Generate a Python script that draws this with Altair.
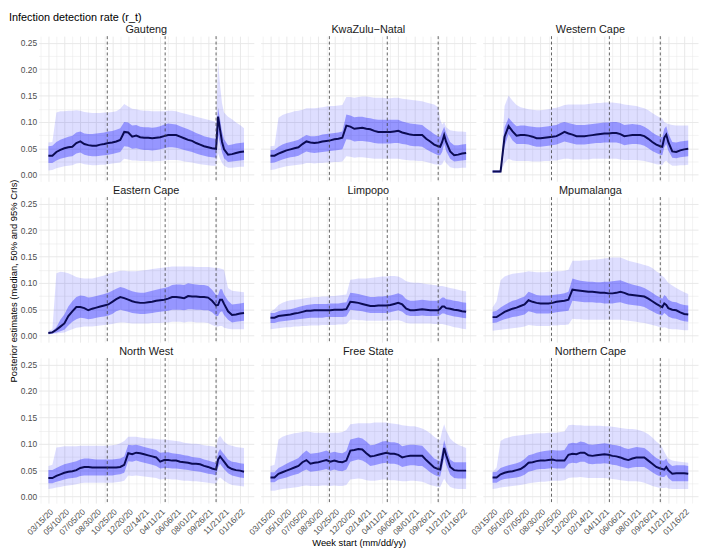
import json
import altair as alt
import pandas as pd

# ---------------- data ----------------
weeks = [0, 2, 4, 6, 8, 10, 12, 14, 16, 18,
         20, 22, 24, 26, 28, 30, 32, 34, 36, 38,
         40, 42, 44, 46, 48, 50, 52, 54, 56, 58,
         60, 62, 64, 66, 68, 70, 72, 74, 76, 78,
         80, 82, 84, 85, 86, 87, 88, 90, 92, 94, 96, 98]
start_date = "2020-03-15"

provinces = ["Gauteng", "KwaZulu\u2212Natal", "Western Cape",
             "Eastern Cape", "Limpopo", "Mpumalanga",
             "North West", "Free State", "Northern Cape"]

tick_dates = ["2020-03-15", "2020-05-10", "2020-07-05", "2020-08-30", "2020-10-25",
              "2020-12-20", "2021-02-14", "2021-04-11", "2021-06-06", "2021-08-01",
              "2021-09-26", "2021-11-21", "2022-01-16"]
tick_labels = ["03/15/20", "05/10/20", "07/05/20", "08/30/20", "10/25/20",
               "12/20/20", "02/14/21", "04/11/21", "06/06/21", "08/01/21",
               "09/26/21", "11/21/21", "01/16/22"]
y_major = [0.0, 0.05, 0.1, 0.15, 0.2, 0.25]
y_minor = [0.025, 0.075, 0.125, 0.175, 0.225]
y_labels = ["0.00", "0.05", "0.10", "0.15", "0.20", "0.25"]

rule_dates = ["2020-10-07T12:00:00Z", "2021-04-28T12:00:00Z", "2021-10-24T00:00:00Z"]

# Gauteng
GP_med = [.036, .036, .043, .047, .050, .052, .053, .060, .063, .058,
          .056, .055, .055, .057, .058, .060, .061, .063, .066, .081,
          .080, .072, .074, .071, .070, .070, .069, .070, .071, .073,
          .075, .075, .075, .072, .069, .066, .064, .060, .057, .054,
          .052, .050, .049, .110, .085, .062, .048, .038, .039, .041, .043, .044]
GP_hi50 = [.054, .055, .062, .066, .069, .072, .074, .080, .082, .078,
           .077, .077, .078, .079, .080, .082, .083, .085, .088, .100,
           .099, .093, .094, .091, .090, .090, .089, .090, .092, .095,
           .097, .096, .095, .092, .089, .086, .083, .079, .076, .073,
           .071, .069, .068, .127, .105, .082, .067, .056, .057, .059, .060, .061]
GP_lo50 = [.022, .022, .027, .030, .032, .034, .035, .040, .042, .038,
           .036, .035, .035, .036, .037, .038, .039, .041, .043, .054,
           .053, .049, .050, .048, .047, .047, .046, .047, .048, .050,
           .052, .052, .051, .049, .047, .045, .043, .040, .038, .036,
           .034, .033, .032, .075, .058, .042, .031, .024, .025, .026, .027, .028]
GP_hi95 = [.061, .062, .118, .120, .120, .121, .121, .122, .121, .119,
           .118, .117, .117, .117, .118, .118, .119, .120, .125, .134,
           .129, .125, .124, .122, .121, .121, .120, .120, .120, .120,
           .121, .121, .120, .118, .116, .114, .112, .110, .108, .106,
           .104, .102, .100, .215, .170, .135, .118, .110, .105, .099, .094, .088]
GP_lo95 = [.008, .009, .012, .014, .016, .017, .018, .021, .022, .020,
           .019, .018, .018, .019, .019, .020, .021, .022, .023, .030,
           .029, .027, .027, .026, .026, .026, .025, .026, .026, .027,
           .028, .028, .028, .027, .025, .024, .023, .021, .020, .019,
           .018, .017, .017, .040, .030, .022, .017, .013, .013, .014, .015, .015]

# KwaZulu-Natal
KZ_med = [.036, .036, .040, .043, .046, .048, .050, .052, .058, .063,
          .061, .060, .061, .063, .064, .065, .067, .068, .070, .093,
          .091, .087, .088, .089, .087, .086, .083, .081, .081, .081,
          .081, .082, .083, .080, .078, .076, .075, .075, .075, .068,
          .063, .057, .054, .053, .062, .075, .062, .044, .037, .038, .040, .041]
KZ_hi50 = [.047, .047, .053, .057, .060, .062, .064, .066, .071, .075,
           .073, .073, .074, .076, .077, .078, .079, .080, .082, .114,
           .112, .109, .110, .110, .108, .107, .105, .104, .104, .104,
           .104, .104, .104, .101, .099, .097, .096, .095, .094, .088,
           .083, .077, .073, .072, .082, .091, .079, .062, .056, .056, .057, .058]
KZ_lo50 = [.022, .023, .026, .029, .031, .033, .034, .036, .040, .044,
           .042, .041, .042, .043, .044, .045, .046, .047, .048, .067,
           .066, .063, .064, .064, .063, .062, .060, .059, .059, .059,
           .059, .060, .060, .058, .057, .055, .054, .054, .053, .048,
           .044, .040, .037, .037, .043, .058, .045, .030, .025, .026, .027, .028]
KZ_hi95 = [.054, .055, .108, .113, .116, .118, .120, .121, .123, .126,
           .126, .126, .127, .128, .129, .130, .130, .131, .132, .147,
           .147, .146, .147, .148, .148, .147, .146, .146, .146, .145,
           .145, .146, .146, .144, .143, .142, .141, .140, .139, .137,
           .135, .133, .128, .105, .095, .100, .090, .084, .083, .082, .082, .081]
KZ_lo95 = [.009, .010, .012, .014, .016, .017, .018, .019, .020, .022,
           .022, .021, .022, .022, .023, .023, .024, .024, .025, .035,
           .034, .032, .033, .033, .032, .031, .030, .030, .030, .030,
           .030, .030, .030, .029, .028, .027, .027, .026, .026, .024,
           .022, .020, .019, .018, .020, .028, .022, .014, .012, .012, .013, .013]

# Western Cape
WC_med = [.006, .006, .006, .072, .092, .082, .074, .075, .075, .074,
          .072, .069, .069, .070, .071, .072, .073, .077, .081, .078,
          .076, .073, .073, .073, .074, .075, .076, .077, .078, .078,
          .079, .079, .077, .073, .074, .075, .075, .075, .073, .068,
          .062, .057, .054, .053, .070, .076, .062, .044, .043, .046, .048, .049]
WC_hi50 = [.008, .008, .008, .090, .108, .099, .092, .093, .093, .092,
           .091, .090, .090, .091, .092, .093, .094, .098, .100, .098,
           .096, .094, .094, .094, .095, .096, .097, .098, .099, .099,
           .100, .100, .098, .094, .095, .096, .095, .094, .091, .086,
           .080, .075, .072, .071, .087, .092, .078, .062, .061, .063, .064, .065]
WC_lo50 = [.004, .004, .004, .054, .077, .065, .058, .058, .058, .057,
           .055, .053, .053, .054, .055, .056, .057, .060, .063, .061,
           .059, .057, .057, .057, .058, .059, .060, .060, .061, .061,
           .061, .061, .059, .056, .057, .058, .058, .057, .055, .050,
           .045, .041, .038, .037, .052, .058, .046, .032, .031, .033, .034, .035]
WC_hi95 = [.009, .009, .009, .130, .150, .140, .132, .128, .126, .124,
           .123, .122, .122, .123, .124, .126, .127, .129, .132, .133,
           .133, .133, .133, .133, .134, .135, .136, .136, .137, .137,
           .137, .136, .135, .133, .132, .131, .130, .128, .126, .122,
           .117, .112, .108, .106, .100, .098, .096, .094, .093, .093, .093, .093]
WC_lo95 = [.003, .003, .003, .022, .030, .027, .026, .026, .026, .026,
           .025, .025, .025, .026, .026, .027, .027, .029, .030, .030,
           .029, .029, .029, .029, .029, .030, .030, .030, .030, .030,
           .030, .030, .029, .028, .028, .028, .028, .027, .026, .024,
           .022, .020, .019, .018, .024, .027, .022, .017, .017, .018, .018, .019]

# Eastern Cape
EC_med = [.005, .006, .011, .017, .023, .037, .046, .054, .054, .052,
          .048, .051, .053, .055, .057, .059, .064, .069, .073, .071,
          .068, .065, .063, .062, .062, .063, .064, .066, .067, .068,
          .070, .073, .073, .072, .071, .075, .074, .074, .073, .073,
          .072, .066, .057, .058, .068, .068, .060, .046, .039, .040, .042, .043]
EC_hi50 = [.007, .008, .016, .030, .040, .055, .065, .073, .076, .075,
           .072, .073, .075, .077, .079, .081, .085, .089, .092, .090,
           .087, .084, .082, .081, .081, .083, .085, .087, .089, .090,
           .092, .096, .097, .097, .096, .099, .098, .097, .096, .096,
           .094, .087, .077, .077, .088, .088, .078, .066, .059, .060, .061, .062]
EC_lo50 = [.003, .004, .006, .008, .011, .019, .026, .031, .034, .033,
           .031, .032, .034, .035, .036, .038, .041, .046, .049, .047,
           .045, .043, .042, .041, .041, .042, .043, .044, .045, .046,
           .047, .049, .049, .049, .048, .050, .050, .049, .049, .048,
           .048, .044, .037, .037, .044, .046, .039, .030, .025, .026, .027, .028]
EC_hi95 = [.009, .012, .118, .121, .120, .118, .115, .111, .109, .108,
           .108, .108, .110, .112, .114, .117, .119, .121, .123, .123,
           .122, .122, .122, .123, .124, .125, .126, .127, .128, .129,
           .130, .131, .131, .131, .131, .131, .131, .130, .130, .130,
           .130, .129, .128, .128, .127, .126, .125, .090, .085, .084, .083, .082]
EC_lo95 = [.002, .003, .004, .005, .006, .009, .012, .015, .016, .017,
           .017, .017, .018, .019, .020, .021, .022, .024, .025, .025,
           .024, .023, .023, .023, .023, .023, .024, .024, .024, .025,
           .025, .026, .026, .026, .025, .026, .026, .025, .025, .025,
           .024, .020, .017, .017, .018, .018, .015, .013, .012, .012, .012, .012]

# Limpopo
LP_med = [.034, .034, .037, .038, .039, .040, .042, .043, .045, .047,
          .047, .048, .048, .048, .048, .048, .049, .049, .049, .050,
          .064, .063, .062, .060, .058, .056, .056, .057, .057, .057,
          .058, .060, .062, .059, .051, .048, .048, .049, .050, .049,
          .048, .048, .048, .051, .055, .055, .052, .051, .049, .048, .046, .045]
LP_hi50 = [.043, .043, .046, .048, .049, .050, .052, .054, .056, .058,
           .059, .060, .060, .060, .060, .061, .061, .061, .062, .063,
           .081, .080, .079, .077, .075, .073, .073, .074, .074, .075,
           .076, .078, .080, .077, .069, .066, .066, .067, .068, .067,
           .066, .066, .066, .069, .072, .072, .069, .068, .066, .065, .063, .062]
LP_lo50 = [.024, .024, .026, .027, .028, .029, .030, .031, .032, .033,
           .034, .034, .034, .034, .035, .035, .035, .035, .035, .036,
           .049, .048, .047, .046, .044, .043, .043, .043, .043, .043,
           .044, .046, .048, .045, .039, .037, .037, .037, .038, .037,
           .037, .037, .037, .039, .042, .042, .040, .038, .036, .035, .034, .033]
LP_hi95 = [.045, .050, .058, .062, .065, .067, .068, .069, .070, .071,
           .072, .073, .073, .074, .074, .075, .075, .076, .077, .078,
           .106, .107, .108, .108, .108, .109, .110, .111, .112, .112,
           .113, .113, .112, .108, .103, .101, .100, .100, .099, .098,
           .097, .096, .095, .094, .094, .093, .092, .090, .089, .087, .085, .084]
LP_lo95 = [.012, .013, .014, .015, .016, .016, .017, .017, .018, .018,
           .019, .019, .019, .020, .020, .020, .020, .021, .021, .022,
           .030, .030, .029, .029, .028, .028, .028, .028, .028, .028,
           .028, .029, .029, .027, .024, .023, .023, .023, .023, .023,
           .023, .022, .022, .022, .022, .021, .020, .018, .016, .015, .013, .012]

# Mpumalanga
MP_med = [.035, .035, .040, .045, .048, .051, .053, .056, .059, .067,
          .064, .062, .061, .061, .061, .062, .064, .065, .066, .068,
          .087, .086, .085, .084, .083, .083, .082, .081, .081, .080,
          .080, .081, .083, .081, .078, .077, .076, .075, .074, .070,
          .065, .060, .056, .054, .061, .058, .052, .049, .048, .044, .041, .040]
MP_hi50 = [.045, .047, .053, .058, .062, .066, .068, .071, .074, .083,
           .080, .077, .076, .076, .076, .077, .078, .079, .080, .083,
           .108, .106, .104, .103, .102, .102, .101, .101, .102, .102,
           .103, .104, .105, .102, .099, .097, .095, .093, .090, .086,
           .081, .076, .072, .070, .077, .074, .068, .064, .063, .060, .058, .057]
MP_lo50 = [.024, .025, .028, .031, .033, .035, .036, .038, .040, .046,
           .044, .042, .042, .042, .042, .043, .044, .045, .046, .047,
           .066, .065, .064, .063, .063, .063, .062, .062, .061, .061,
           .061, .062, .063, .061, .059, .058, .057, .056, .054, .050,
           .046, .042, .039, .038, .043, .040, .036, .033, .032, .029, .027, .026]
MP_hi95 = [.053, .065, .105, .112, .115, .117, .118, .119, .120, .122,
           .121, .120, .120, .120, .121, .121, .122, .122, .123, .125,
           .142, .142, .142, .143, .143, .144, .144, .145, .146, .147,
           .148, .148, .148, .145, .142, .140, .138, .136, .134, .132,
           .128, .122, .117, .113, .110, .105, .100, .095, .090, .086, .082, .079]
MP_lo95 = [.009, .010, .011, .012, .013, .014, .015, .016, .017, .020,
           .019, .018, .018, .018, .018, .019, .019, .020, .020, .021,
           .032, .031, .031, .030, .030, .030, .030, .030, .030, .030,
           .030, .030, .030, .029, .028, .027, .026, .025, .024, .022,
           .020, .018, .016, .015, .016, .015, .013, .012, .012, .011, .010, .010]

# North West
NW_med = [.035, .035, .039, .042, .045, .047, .048, .050, .054, .056,
          .056, .055, .055, .055, .055, .055, .055, .055, .056, .060,
          .082, .080, .083, .082, .080, .078, .076, .074, .066, .069,
          .069, .068, .068, .066, .065, .064, .062, .062, .061, .058,
          .056, .053, .051, .070, .076, .071, .066, .056, .052, .050, .049, .047]
NW_hi50 = [.050, .050, .054, .058, .061, .063, .065, .067, .070, .072,
           .072, .071, .070, .070, .070, .070, .070, .071, .072, .076,
           .098, .097, .098, .096, .094, .092, .090, .088, .083, .084,
           .084, .082, .081, .080, .078, .077, .075, .074, .073, .070,
           .068, .066, .064, .083, .090, .085, .080, .070, .066, .065, .063, .062]
NW_lo50 = [.025, .025, .028, .030, .032, .034, .035, .036, .039, .040,
           .040, .040, .040, .040, .040, .040, .040, .041, .042, .045,
           .067, .066, .068, .066, .064, .062, .060, .058, .053, .054,
           .054, .053, .053, .052, .051, .050, .049, .048, .047, .045,
           .043, .042, .040, .055, .062, .057, .052, .044, .040, .038, .036, .035]
NW_hi95 = [.058, .060, .093, .094, .095, .095, .095, .095, .096, .096,
           .096, .096, .096, .096, .096, .096, .097, .098, .101, .105,
           .113, .113, .113, .112, .111, .110, .110, .109, .108, .108,
           .107, .106, .105, .104, .102, .101, .100, .100, .099, .097,
           .096, .095, .094, .110, .115, .110, .104, .098, .096, .094, .093, .092]
NW_lo95 = [.014, .015, .017, .018, .020, .021, .022, .023, .025, .026,
           .026, .026, .026, .026, .026, .026, .026, .027, .028, .030,
           .040, .039, .040, .039, .038, .037, .036, .035, .032, .033,
           .033, .032, .032, .031, .030, .030, .029, .029, .028, .027,
           .026, .025, .024, .032, .036, .033, .030, .025, .022, .021, .020, .019]

# Free State
FS_med = [.036, .036, .043, .046, .049, .052, .055, .058, .065, .069,
          .062, .064, .065, .067, .069, .066, .068, .066, .065, .068,
          .087, .088, .090, .089, .082, .076, .077, .079, .081, .083,
          .081, .081, .079, .074, .076, .077, .077, .077, .077, .069,
          .062, .055, .052, .051, .070, .092, .078, .056, .050, .049, .049, .049]
FS_hi50 = [.046, .046, .054, .058, .062, .066, .069, .073, .081, .087,
           .081, .082, .083, .085, .087, .083, .085, .083, .082, .086,
           .108, .110, .112, .110, .104, .097, .098, .101, .104, .105,
           .103, .103, .101, .095, .097, .098, .098, .097, .096, .088,
           .080, .072, .068, .067, .087, .107, .093, .070, .065, .065, .065, .065]
FS_lo50 = [.027, .027, .032, .034, .036, .039, .041, .043, .048, .051,
           .047, .048, .049, .050, .052, .049, .051, .049, .048, .051,
           .066, .068, .070, .068, .064, .058, .059, .061, .063, .064,
           .062, .062, .060, .056, .058, .059, .059, .058, .058, .052,
           .046, .041, .038, .038, .054, .074, .060, .041, .035, .034, .034, .034]
FS_hi95 = [.058, .060, .108, .113, .116, .118, .120, .121, .122, .123,
           .122, .121, .121, .121, .121, .121, .121, .121, .122, .126,
           .137, .138, .139, .139, .139, .139, .140, .140, .140, .140,
           .139, .138, .137, .135, .134, .133, .133, .131, .129, .125,
           .120, .113, .108, .107, .125, .137, .125, .110, .103, .098, .095, .092]
FS_lo95 = [.011, .011, .013, .014, .015, .016, .017, .018, .020, .021,
           .020, .020, .020, .021, .021, .020, .021, .020, .020, .022,
           .032, .033, .034, .033, .031, .030, .030, .031, .032, .032,
           .031, .031, .030, .029, .029, .030, .030, .029, .028, .025,
           .022, .020, .018, .018, .026, .034, .027, .018, .015, .014, .014, .014]

# Northern Cape
NC_med = [.036, .036, .042, .045, .047, .048, .050, .052, .057, .064,
          .065, .067, .068, .068, .069, .070, .068, .068, .068, .079,
          .081, .080, .083, .083, .078, .077, .078, .079, .080, .079,
          .077, .076, .074, .071, .069, .072, .074, .074, .074, .068,
          .062, .056, .053, .052, .051, .056, .050, .043, .044, .044, .044, .043]
NC_hi50 = [.046, .047, .054, .057, .059, .061, .063, .066, .071, .078,
           .080, .083, .085, .086, .087, .088, .087, .087, .088, .100,
           .102, .101, .104, .103, .099, .098, .099, .100, .101, .100,
           .098, .097, .095, .092, .090, .092, .094, .093, .092, .086,
           .079, .073, .069, .068, .068, .072, .064, .058, .059, .059, .059, .058]
NC_lo50 = [.026, .026, .031, .033, .034, .035, .036, .038, .041, .047,
           .049, .051, .052, .052, .053, .054, .053, .053, .053, .062,
           .064, .063, .066, .066, .062, .061, .062, .062, .063, .062,
           .060, .059, .057, .055, .053, .055, .056, .056, .056, .051,
           .046, .041, .038, .037, .037, .041, .035, .029, .029, .029, .029, .029]
NC_hi95 = [.047, .055, .105, .110, .112, .114, .115, .116, .117, .118,
           .119, .120, .120, .120, .121, .121, .121, .122, .123, .135,
           .136, .135, .135, .134, .134, .134, .134, .134, .133, .133,
           .132, .131, .130, .129, .128, .128, .127, .125, .122, .118,
           .112, .104, .098, .093, .085, .078, .072, .068, .067, .066, .065, .064]
NC_lo95 = [.014, .015, .017, .018, .019, .020, .021, .022, .023, .025,
           .026, .027, .028, .028, .029, .030, .030, .030, .031, .035,
           .036, .036, .037, .036, .035, .035, .035, .035, .035, .034,
           .033, .032, .031, .030, .029, .029, .029, .028, .026, .023,
           .020, .018, .016, .016, .016, .017, .015, .014, .014, .014, .014, .014]

series = {
    "Gauteng": (GP_med, GP_lo50, GP_hi50, GP_lo95, GP_hi95),
    "KwaZulu\u2212Natal": (KZ_med, KZ_lo50, KZ_hi50, KZ_lo95, KZ_hi95),
    "Western Cape": (WC_med, WC_lo50, WC_hi50, WC_lo95, WC_hi95),
    "Eastern Cape": (EC_med, EC_lo50, EC_hi50, EC_lo95, EC_hi95),
    "Limpopo": (LP_med, LP_lo50, LP_hi50, LP_lo95, LP_hi95),
    "Mpumalanga": (MP_med, MP_lo50, MP_hi50, MP_lo95, MP_hi95),
    "North West": (NW_med, NW_lo50, NW_hi50, NW_lo95, NW_hi95),
    "Free State": (FS_med, FS_lo50, FS_hi50, FS_lo95, FS_hi95),
    "Northern Cape": (NC_med, NC_lo50, NC_hi50, NC_lo95, NC_hi95),
}

# ---------------- tables ----------------
t0 = pd.Timestamp(start_date)
dates = [(t0 + pd.Timedelta(days=7 * w)).strftime("%Y-%m-%d") for w in weeks]
rows = []
for prov in provinces:
    med, lo50, hi50, lo95, hi95 = series[prov]
    for arr in (med, lo50, hi50, lo95, hi95):
        assert len(arr) == len(weeks), (prov, len(arr))
    for i, d in enumerate(dates):
        rows.append({"province": prov, "date": d, "med": med[i],
                     "lo50": lo50[i], "hi50": hi50[i],
                     "lo95": lo95[i], "hi95": hi95[i]})
df = pd.DataFrame(rows)
rule_df = pd.DataFrame({"date": rule_dates})

# ---------------- axes ----------------
DAY = 86400000
major_ts = [int(pd.Timestamp(d).value // 10**6) for d in tick_dates]
minor_ts = [major_ts[0] - 28 * DAY] + [t + 28 * DAY for t in major_ts]
x_vals = sorted(major_ts + minor_ts)
x_min = major_ts[0] - int(4.9 * 7 * DAY)
x_max = int(pd.Timestamp(dates[-1]).value // 10**6) + int(4.9 * 7 * DAY)

FONT = "Liberation Sans"
GRID = "#e6e6e6"
PANEL_W, PANEL_H = 218, 147
x_label_expr = f"{json.dumps(tick_labels)}[indexof({json.dumps(major_ts)}, time(datum.value))] || ''"
x_axis = alt.Axis(
    values=x_vals, labelExpr=x_label_expr, labelAngle=-45, labelAlign="right",
    labelBaseline="top", labelFontSize=8.5, labelColor="#4d4d4d", labelOverlap=False,
    labelPadding=3, ticks=False, domain=False, gridColor=GRID, title=None,
    gridWidth={"condition": {"test": f"indexof({json.dumps(major_ts)}, time(datum.value)) >= 0",
                             "value": 0.9}, "value": 0.5},
)
y_vals = sorted(y_major + y_minor)
y_label_expr = f"{json.dumps(y_labels)}[indexof({json.dumps(y_major)}, datum.value)] || ''"
y_axis = alt.Axis(
    values=y_vals, labelExpr=y_label_expr, labelFontSize=8.5, labelColor="#4d4d4d",
    labelPadding=2, ticks=False, domain=False, gridColor=GRID, title=None,
    gridWidth={"condition": {"test": f"indexof({json.dumps(y_major)}, datum.value) >= 0",
                             "value": 0.9}, "value": 0.5},
)

X_TITLE = "Week start (mm/dd/yy)"
Y_TITLE = "Posterior estimates (median, 50% and 95% CrIs)"
x_scale = alt.Scale(type="utc", domain=[x_min, x_max], nice=False)
y_scale = alt.Scale(domain=[-0.0125, 0.2625], nice=False, zero=False)

def X():
    return alt.X("date:T", scale=x_scale, axis=x_axis, title=None)

band95 = alt.Chart().mark_area(color="#0000ff", opacity=0.13).encode(
    x=X(), y=alt.Y("lo95:Q", scale=y_scale, axis=y_axis, title=None), y2="hi95:Q")
band50 = alt.Chart().mark_area(color="#0000ff", opacity=0.32).encode(
    x=X(), y=alt.Y("lo50:Q", scale=y_scale, axis=y_axis, title=None), y2="hi50:Q")
median = alt.Chart().mark_line(color="#0b0b52", strokeWidth=2).encode(
    x=X(), y=alt.Y("med:Q", scale=y_scale, axis=y_axis, title=None))
rules = alt.Chart(rule_df).mark_rule(color="#3c3c3c", strokeWidth=0.8,
                                     strokeDash=[3, 2.5]).encode(x=X())

panel = alt.layer(band95, band50, median, rules).properties(width=PANEL_W, height=PANEL_H)

grid_chart = panel.facet(
    facet=alt.Facet("province:N", sort=provinces, title=None,
                    header=alt.Header(labelFontSize=11, labelColor="#1a1a1a",
                                      labelPadding=1, labelFont=FONT)),
    columns=3, data=df, spacing={"row": 2, "column": 7},
).properties(
    title=alt.TitleParams(X_TITLE, orient="bottom", anchor="middle", fontSize=9.5,
                          fontWeight="normal", color="#000000", offset=2, font=FONT)
)

y_title = alt.Chart(pd.DataFrame({"t": [Y_TITLE]})).mark_text(
    angle=270, fontSize=9.5, font=FONT, color="#000000", align="center", baseline="middle"
).encode(text="t:N", x=alt.value(5), y=alt.value(248)).properties(width=10, height=480)

chart = alt.hconcat(y_title, grid_chart, spacing=1).properties(
    padding={"left": 0, "top": 0, "right": 0, "bottom": 0},
    title=alt.TitleParams("Infection detection rate (r_t)", anchor="start", frame="bounds",
                          fontSize=11, fontWeight="normal", color="#000000", offset=1, font=FONT)
).configure(font=FONT).configure_view(stroke=None)

chart.save("out.html", embed_options={"renderer": "svg", "actions": False})
